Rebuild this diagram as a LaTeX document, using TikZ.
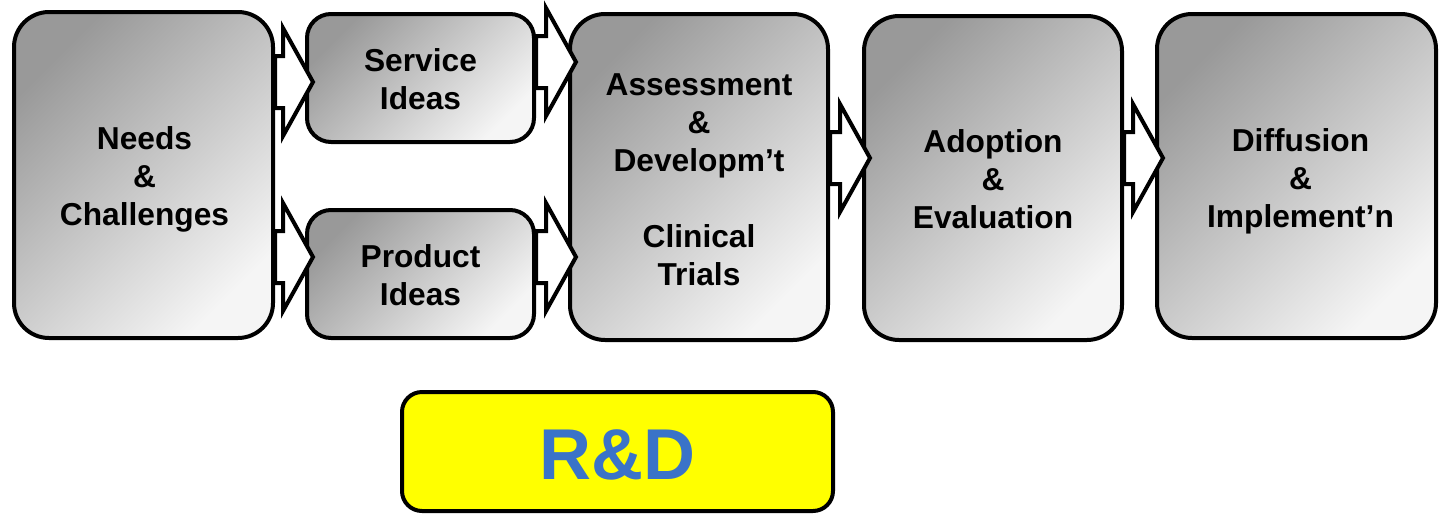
\documentclass[tikz,border=0pt]{standalone}
\usepackage{fontspec}
\setmainfont{Liberation Sans}
\usetikzlibrary{calc}
\definecolor{rdblue}{RGB}{58,115,200}
\definecolor{rdyellow}{RGB}{255,255,0}
\tikzset{
  gbox/.style={draw=black, line width=4pt, top color=black!40, bottom color=black!4, shading angle=45,
    rounded corners=#1, minimum width=0pt, minimum height=0pt, inner sep=0pt},
  txt/.style={align=center, inner sep=0pt, font=\bfseries\fontsize{31.7}{38}\selectfont, text=black},
  barrow/.style={draw=black, fill=white, line width=4pt, line join=miter},
}
\newcommand\blockarr[3]{%
  \coordinate (s) at (#1.east |- 0,#3);
  \coordinate (t) at ($(#2.west |- 0,#3)+(8,0)$);
  \draw[barrow] ($(s)+(0,-26)$) -- ($(t)+(-30,-26)$) -- ($(t)+(-30,-54)$) -- (t)
     -- ($(t)+(-30,54)$) -- ($(t)+(-30,26)$) -- ($(s)+(0,26)$) -- cycle;}
\begin{document}
\begin{tikzpicture}[x=1pt,y=-1pt]
\useasboundingbox (0,0) rectangle (1441,515);
\node[gbox=35pt, minimum width=259pt, minimum height=326pt,
  label={[txt,yshift=-4pt,xshift=1pt]center:{Needs\\\&\\Challenges}}] (needs) at (143.5,175) {};
\node[gbox=24pt, minimum width=227pt, minimum height=128pt,
  label={[txt,yshift=-1pt]center:{Service\\Ideas}}] (service) at (420.5,78) {};
\node[gbox=24pt, minimum width=227pt, minimum height=128pt,
  label={[txt,yshift=-1pt]center:{Product\\Ideas}}] (product) at (420.5,274) {};
\node[gbox=35pt, minimum width=258pt, minimum height=326pt,
  label={[txt,yshift=-2.5pt]center:{Assessment\\\&\\Developm’t\\[38pt]Clinical\\Trials}}] (assess) at (699,177) {};
\node[gbox=35pt, minimum width=258pt, minimum height=324pt,
  label={[txt,yshift=-1pt]center:{Adoption\\\&\\Evaluation}}] (adopt) at (993,178) {};
\node[gbox=35pt, minimum width=279pt, minimum height=324pt,
  label={[txt,yshift=-5pt,xshift=4pt]center:{Diffusion\\\&\\Implement’n}}] (diff) at (1296.5,176) {};
\node[draw=black, line width=4pt, fill=rdyellow, rounded corners=20pt, minimum width=431pt, minimum height=119pt,
  label={[inner sep=0pt, font=\bfseries\fontsize{72}{80}\selectfont, text=rdblue, yshift=-3pt]center:{R\&D}}] (rd) at (617.5,451.5) {};
\blockarr{needs}{service}{82}
\blockarr{needs}{product}{257}
\blockarr{service}{assess}{62}
\blockarr{product}{assess}{257}
\blockarr{assess}{adopt}{158}
\blockarr{adopt}{diff}{158}
\end{tikzpicture}
\end{document}
